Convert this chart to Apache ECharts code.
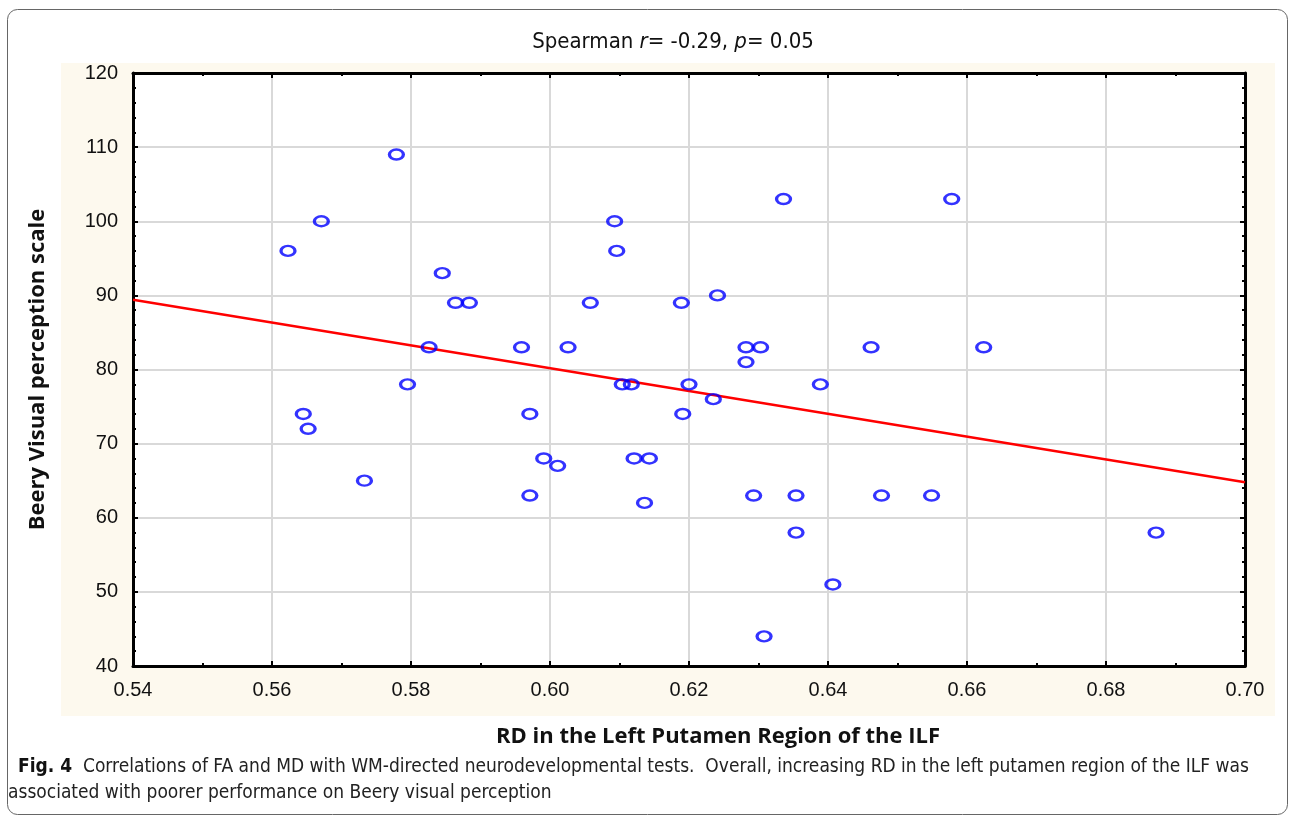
<!DOCTYPE html>
<html>
<head>
<meta charset="utf-8">
<script src="https://cdn.jsdelivr.net/npm/echarts@6/dist/echarts.min.js"></script>
<style>
	html, body { margin: 0; padding: 0; background: #fff; }
	#chart { width: 1290px; height: 816px; }
</style>
</head>
<body>
<div id="chart"></div>
<script>
"use strict";

// RD values (x) and Beery scores (y)
var rdValues = [
	0.5623, 0.5671, 0.5779, 0.5845, 0.5864, 0.5884, 0.5826, 0.5795, 0.5645, 0.5652,
	0.5733, 0.5959, 0.5971, 0.5991, 0.6011, 0.5971, 0.6026, 0.6058, 0.6093, 0.6096,
	0.6104, 0.6117, 0.6121, 0.6143, 0.6136, 0.6189, 0.6200, 0.6191, 0.6241, 0.6235,
	0.6282, 0.6303, 0.6282, 0.6336, 0.6293, 0.6308, 0.6354, 0.6354, 0.6389, 0.6407,
	0.6462, 0.6477, 0.6549, 0.6578, 0.6624, 0.6872
];
var beeryValues = [
	96, 100, 109, 93, 89, 89, 83, 78, 74, 72,
	65, 83, 74, 68, 67, 63, 83, 89, 100, 96,
	78, 78, 68, 68, 62, 89, 78, 74, 90, 76,
	83, 83, 81, 103, 63, 44, 63, 58, 78, 51,
	83, 63, 63, 103, 83, 58
];

// fitted line end points
var fitX = [0.54, 0.70];
var fitY = [89.4, 64.8];

var titleParts = ['Spearman ', 'r', '= -0.29, ', 'p', '= 0.05'];
var xName = 'RD in the Left Putamen Region of the ILF';
var yName = 'Beery Visual perception scale';
var captionBold = 'Fig. 4';
var captionLines = [
	'Correlations of FA and MD with WM-directed neurodevelopmental tests.  Overall, increasing RD in the left putamen region of the ILF was',
	'associated with poorer performance on Beery visual perception'
];

var myChart = echarts.init(document.getElementById('chart'));

var scatterData = [];
for (var i = 0; i < rdValues.length; i++) {
	scatterData.push([rdValues[i], beeryValues[i]]);
}
var fitData = [];
for (var j = 0; j < fitX.length; j++) {
	fitData.push([fitX[j], fitY[j]]);
}

var narrow = '"Liberation Sans Narrow", "DejaVu Sans Condensed", sans-serif';
var tickFont = '"Liberation Sans", Arial, sans-serif';

var frameLine = { show: true, onZero: false, lineStyle: { color: '#000', width: 3 } };
var innerTick = { show: true, inside: true, length: 5, lineStyle: { color: '#000', width: 2 } };

var option = {
	backgroundColor: '#fff',
	animation: false,
	title: {
		left: 668,
		textAlign: 'center',
		top: 26,
		text: '{n|' + titleParts[0] + '}{i|' + titleParts[1] + '}{n|' + titleParts[2] + '}{i|' + titleParts[3] + '}{n|' + titleParts[4] + '}',
		textStyle: {
			fontWeight: 'normal',
			rich: {
				n: { fontFamily: narrow, fontSize: 22, fontWeight: 'normal', color: '#111' },
				i: { fontFamily: narrow, fontSize: 22, fontWeight: 'normal', fontStyle: 'italic', color: '#111' }
			}
		}
	},
	graphic: [
		{
			type: 'rect', z: -10, silent: true,
			shape: { x: 7.5, y: 9.5, width: 1280, height: 805, r: 10 },
			style: { fill: '#fff', stroke: '#666', lineWidth: 1 }
		},
		{
			type: 'rect', z: -5, silent: true,
			shape: { x: 61, y: 63, width: 1214, height: 653 },
			style: { fill: '#fdf9ee' }
		},
		{
			type: 'text', left: 18, top: 758, z: 10,
			style: {
				text: '{b|' + captionBold + '}{n|  ' + captionLines[0] + '}',
				rich: {
					b: { fontFamily: narrow, fontSize: 19, fontWeight: 'bold', fill: '#111' },
					n: { fontFamily: narrow, fontSize: 19, fill: '#222' }
				}
			}
		},
		{
			type: 'text', left: 8, top: 784, z: 10,
			style: {
				text: captionLines[1],
				font: '19px ' + narrow,
				fill: '#222'
			}
		}
	],
	grid: {
		left: 133,
		right: 45,
		top: 73,
		bottom: 150,
		show: true,
		backgroundColor: '#fff',
		borderWidth: 0
	},
	xAxis: [{
		type: 'value',
		min: 0.54,
		max: 0.70,
		interval: 0.02,
		position: 'bottom',
		name: xName,
		nameLocation: 'middle',
		nameGap: 60,
		nameTextStyle: { fontFamily: '"Open Sans", sans-serif', fontWeight: 'bold', fontSize: 22, color: '#111', padding: [0, 0, 0, 58] },
		axisLine: frameLine,
		axisTick: innerTick,
		minorTick: { show: true, splitNumber: 2, length: 3, lineStyle: { color: '#000', width: 2 } },
		axisLabel: {
			margin: 14,
			fontFamily: tickFont,
			fontSize: 20,
			color: '#111',
			formatter: function (v) { return v.toFixed(2); }
		},
		splitLine: { show: true, lineStyle: { color: '#d9d9d9', width: 2 } }
	}, {
		type: 'value',
		min: 0.54,
		max: 0.70,
		interval: 0.02,
		position: 'top',
		axisLine: frameLine,
		axisTick: innerTick,
		minorTick: { show: true, splitNumber: 2, length: 3, lineStyle: { color: '#000', width: 2 } },
		axisLabel: { show: false },
		splitLine: { show: false }
	}],
	yAxis: [{
		type: 'value',
		min: 40,
		max: 120,
		interval: 10,
		position: 'left',
		name: yName,
		nameLocation: 'middle',
		nameGap: 84,
		nameTextStyle: { fontFamily: '"Open Sans", sans-serif', fontWeight: 'bold', fontSize: 22, color: '#111' },
		axisLine: frameLine,
		axisTick: innerTick,
		minorTick: { show: true, splitNumber: 5, length: 3, lineStyle: { color: '#000', width: 2 } },
		axisLabel: {
			margin: 15,
			fontFamily: tickFont,
			fontSize: 20,
			color: '#111'
		},
		splitLine: { show: true, lineStyle: { color: '#d9d9d9', width: 2 } }
	}, {
		type: 'value',
		min: 40,
		max: 120,
		interval: 10,
		position: 'right',
		axisLine: frameLine,
		axisTick: innerTick,
		minorTick: { show: true, splitNumber: 5, length: 3, lineStyle: { color: '#000', width: 2 } },
		axisLabel: { show: false },
		splitLine: { show: false }
	}],
	series: [{
		name: 'fit',
		type: 'line',
		data: fitData,
		showSymbol: false,
		symbol: 'none',
		lineStyle: { color: '#ff0000', width: 2.5 },
		z: 3
	}, {
		name: 'Beery',
		type: 'scatter',
		data: scatterData,
		symbol: 'circle',
		symbolSize: [14, 10],
		itemStyle: {
			color: 'rgba(0,0,0,0)',
			borderColor: '#0000ff',
			borderWidth: 2.8
		},
		z: 4
	}]
};

myChart.setOption(option);
</script>
</body>
</html>
